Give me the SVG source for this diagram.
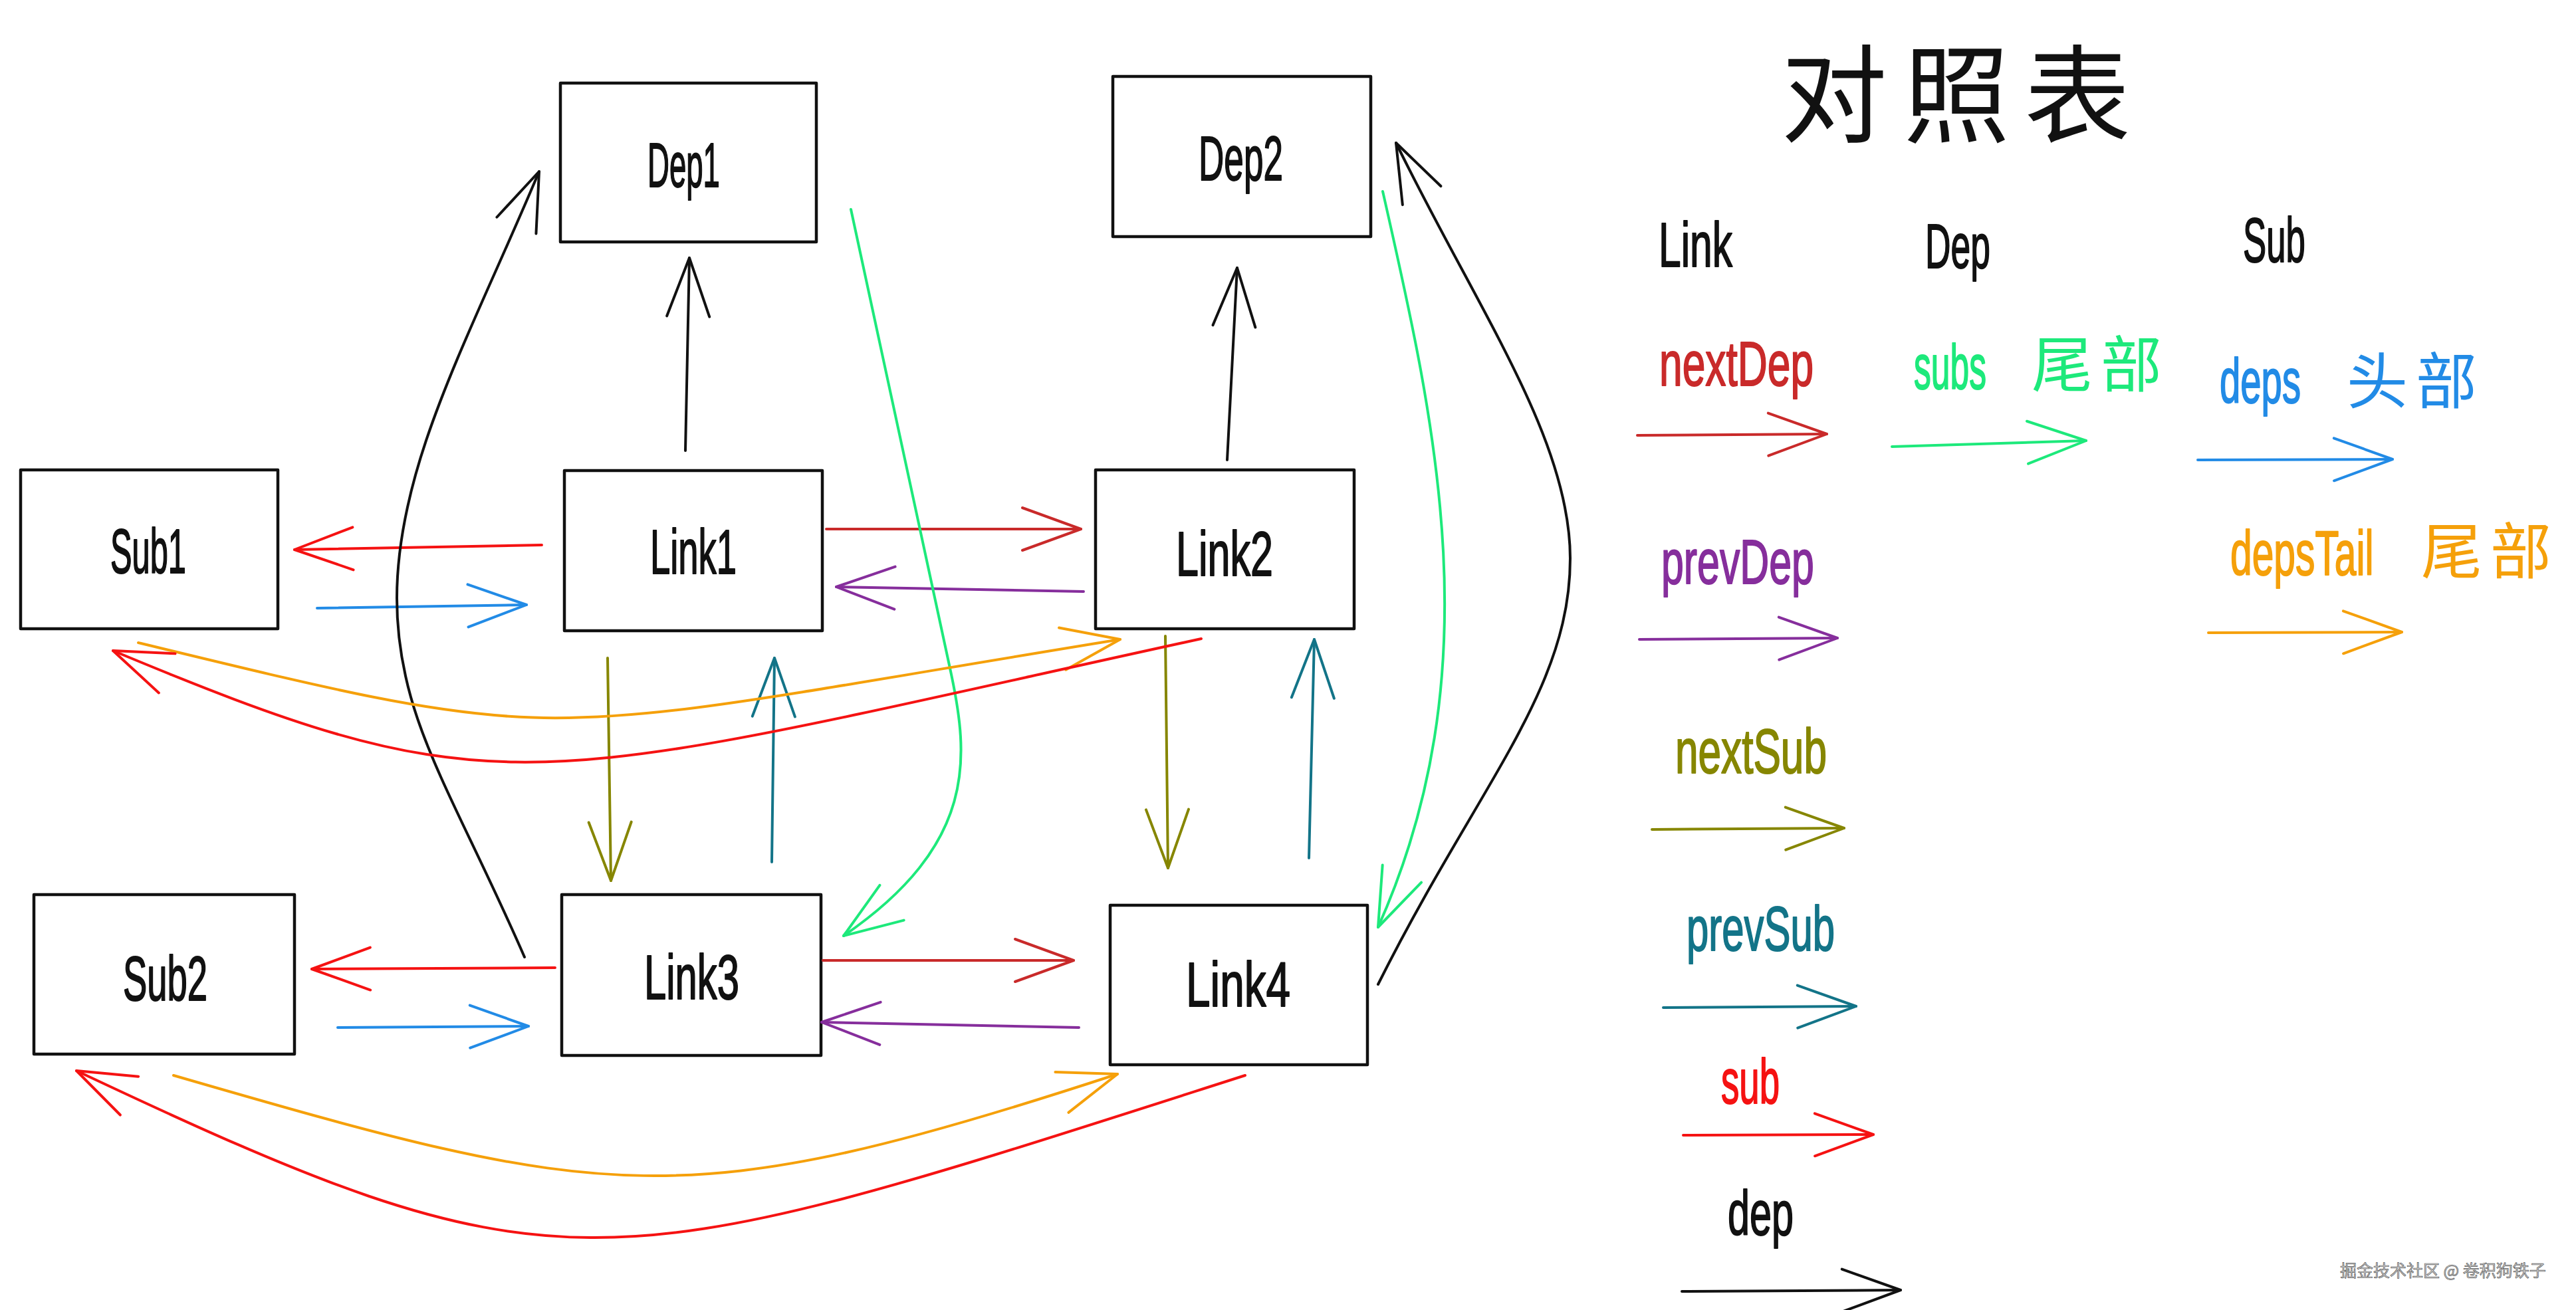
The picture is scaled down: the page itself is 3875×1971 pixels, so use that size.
<svg xmlns="http://www.w3.org/2000/svg" width="3875" height="1971" viewBox="0 0 3875 1971">
<style>
.box{fill:none;stroke:#111;stroke-width:4.5;stroke-linejoin:round}
.lbl{font-family:"Liberation Sans","Noto Sans CJK SC",sans-serif;font-size:94px;color:#111;fill:currentColor;stroke:currentColor;stroke-width:2;stroke-linejoin:round}
.cjk{font-family:"Noto Sans CJK SC","Liberation Sans",sans-serif}
.c{fill:none;stroke-width:4;stroke-linecap:round;stroke-linejoin:round}
.k{stroke:#111}.dr{stroke:#c92a2a}.pu{stroke:#862e9c}.ol{stroke:#868600}.te{stroke:#137488}
.rd{stroke:#f51212}.gr{stroke:#1de97b}.bl{stroke:#228be6}.or{stroke:#f5a00a}
.h{fill:none;stroke-width:4;stroke-linecap:round;stroke-linejoin:round}
</style>
<defs>
<marker id="mk" markerUnits="userSpaceOnUse" orient="auto" refX="0" refY="0" markerWidth="10" markerHeight="10" overflow="visible"><path class="h" d="M-88,-32 L0,0 L-88,32" stroke="#111"/></marker>
<marker id="mdr" markerUnits="userSpaceOnUse" orient="auto" refX="0" refY="0" markerWidth="10" markerHeight="10" overflow="visible"><path class="h" d="M-88,-32 L0,0 L-88,32" stroke="#c92a2a"/></marker>
<marker id="mpu" markerUnits="userSpaceOnUse" orient="auto" refX="0" refY="0" markerWidth="10" markerHeight="10" overflow="visible"><path class="h" d="M-88,-32 L0,0 L-88,32" stroke="#862e9c"/></marker>
<marker id="mol" markerUnits="userSpaceOnUse" orient="auto" refX="0" refY="0" markerWidth="10" markerHeight="10" overflow="visible"><path class="h" d="M-88,-32 L0,0 L-88,32" stroke="#868600"/></marker>
<marker id="mte" markerUnits="userSpaceOnUse" orient="auto" refX="0" refY="0" markerWidth="10" markerHeight="10" overflow="visible"><path class="h" d="M-88,-32 L0,0 L-88,32" stroke="#137488"/></marker>
<marker id="mrd" markerUnits="userSpaceOnUse" orient="auto" refX="0" refY="0" markerWidth="10" markerHeight="10" overflow="visible"><path class="h" d="M-88,-32 L0,0 L-88,32" stroke="#f51212"/></marker>
<marker id="mgr" markerUnits="userSpaceOnUse" orient="auto" refX="0" refY="0" markerWidth="10" markerHeight="10" overflow="visible"><path class="h" d="M-88,-32 L0,0 L-88,32" stroke="#1de97b"/></marker>
<marker id="mbl" markerUnits="userSpaceOnUse" orient="auto" refX="0" refY="0" markerWidth="10" markerHeight="10" overflow="visible"><path class="h" d="M-88,-32 L0,0 L-88,32" stroke="#228be6"/></marker>
<marker id="mor" markerUnits="userSpaceOnUse" orient="auto" refX="0" refY="0" markerWidth="10" markerHeight="10" overflow="visible"><path class="h" d="M-88,-32 L0,0 L-88,32" stroke="#f5a00a"/></marker>
</defs>
<rect width="3875" height="1971" fill="#fff"/>

<g id="Dep1"><rect class="box" x="843" y="125" width="385" height="239"/><text class="lbl" transform="translate(974 281) scale(0.485 1)">Dep1</text></g>
<g id="Dep2"><rect class="box" x="1674" y="115" width="388" height="241"/><text class="lbl" transform="translate(1803 271) scale(0.565 1)">Dep2</text></g>
<g id="Sub1"><rect class="box" x="31" y="707" width="387" height="239"/><text class="lbl" transform="translate(166 862) scale(0.519 1)">Sub1</text></g>
<g id="Link1"><rect class="box" x="849" y="708" width="388" height="241"/><text class="lbl" transform="translate(978 863) scale(0.579 1)">Link1</text></g>
<g id="Link2"><rect class="box" x="1648" y="707" width="389" height="239"/><text class="lbl" transform="translate(1769 866) scale(0.65 1)">Link2</text></g>
<g id="Sub2"><rect class="box" x="51" y="1346" width="392" height="240"/><text class="lbl" transform="translate(185 1505) scale(0.579 1)">Sub2</text></g>
<g id="Link3"><rect class="box" x="845" y="1346" width="390" height="242"/><text class="lbl" transform="translate(969 1503) scale(0.636 1)">Link3</text></g>
<g id="Link4"><rect class="box" x="1670" y="1362" width="387" height="240"/><text class="lbl" transform="translate(1784 1514) scale(0.699 1)">Link4</text></g>

<g id="connectors">
<path class="c k" d="M1031 678 L1037 388" marker-end="url(#mk)"/>
<path class="c k" d="M1846 692 L1861 403" marker-end="url(#mk)"/>
<path class="c rd" d="M815 820 L443 827" marker-end="url(#mrd)"/>
<path class="c bl" d="M477 915 L792 910" marker-end="url(#mbl)"/>
<path class="c dr" d="M1243 796 L1626 796" marker-end="url(#mdr)"/>
<path class="c pu" d="M1630 890 L1258 883" marker-end="url(#mpu)"/>
<path class="c ol" d="M914 990 L919 1325" marker-end="url(#mol)"/>
<path class="c te" d="M1161 1297 L1165 990" marker-end="url(#mte)"/>
<path class="c ol" d="M1753 957 L1757 1306" marker-end="url(#mol)"/>
<path class="c te" d="M1969 1291 L1977 962" marker-end="url(#mte)"/>
<path class="c rd" d="M835 1456 L469 1458" marker-end="url(#mrd)"/>
<path class="c bl" d="M508 1546 L795 1544" marker-end="url(#mbl)"/>
<path class="c dr" d="M1238 1445 L1615 1445" marker-end="url(#mdr)"/>
<path class="c pu" d="M1623 1546 L1236 1538" marker-end="url(#mpu)"/>
<path class="c k" d="M789 1440 C680 1190 597 1080 597 900 C597 700 706 508 811 258" marker-end="url(#mk)"/>
<path class="c k" d="M2073 1481 C2223 1181 2362 1040 2362 840 C2362 660 2222 465 2100 215" marker-end="url(#mk)"/>
<path class="c gr" d="M1280 315 L1430 1010 C1458 1140 1470 1270 1269 1408" marker-end="url(#mgr)"/>
<path class="c gr" d="M2080 288 C2160 640 2245 1010 2073 1395" marker-end="url(#mgr)"/>
<path class="c or" d="M208 967 C876 1129 787 1108 1685 962" marker-end="url(#mor)"/>
<path class="c rd" d="M1807 961 C794 1182 764 1227 170 979" marker-end="url(#mrd)"/>
<path class="c or" d="M261 1618 C913 1807 1023 1832 1681 1616" marker-end="url(#mor)"/>
<path class="c rd" d="M1873 1618 C901 1929 854 1960 115 1611" marker-end="url(#mrd)"/>
</g>

<g id="legend">
<text class="cjk" font-size="160" fill="#111"><tspan x="2679" y="202">对</tspan><tspan x="2863" y="202">照</tspan><tspan x="3045" y="202">表</tspan></text>
<text class="lbl" transform="translate(2495 401) scale(0.644 1)">Link</text>
<text class="lbl" transform="translate(2896 403) scale(0.568 1)">Dep</text>
<text class="lbl" transform="translate(3374 394) scale(0.562 1)">Sub</text>
<text class="lbl" style="color:#c92a2a" transform="translate(2496 580) scale(0.663 1)">nextDep</text>
<text class="lbl" style="color:#1de97b" transform="translate(2879 585) scale(0.549 1)">subs</text>
<text class="cjk" x="3056" y="582" font-size="92" letter-spacing="12" fill="#1de97b">尾部</text>
<text class="lbl" style="color:#228be6" transform="translate(3339 606) scale(0.599 1)">deps</text>
<text class="cjk" x="3530" y="607" font-size="92" letter-spacing="12" fill="#228be6">头部</text>
<text class="lbl" style="color:#862e9c" transform="translate(2499 878) scale(0.647 1)">prevDep</text>
<text class="lbl" style="color:#f5a00a" transform="translate(3355 865) scale(0.625 1)">depsTail</text>
<text class="cjk" x="3642" y="863" font-size="92" letter-spacing="12" fill="#f5a00a">尾部</text>
<text class="lbl" style="color:#868600" transform="translate(2520 1163) scale(0.661 1)">nextSub</text>
<text class="lbl" style="color:#137488" transform="translate(2537 1430) scale(0.637 1)">prevSub</text>
<text class="lbl" style="color:#f51212" transform="translate(2589 1660) scale(0.581 1)">sub</text>
<text class="lbl" transform="translate(2599 1858) scale(0.631 1)">dep</text>
<path class="c dr" d="M2463 655 L2748 653" marker-end="url(#mdr)"/>
<path class="c gr" d="M2846 672 L3138 663" marker-end="url(#mgr)"/>
<path class="c bl" d="M3306 692 L3599 691" marker-end="url(#mbl)"/>
<path class="c pu" d="M2466 962 L2764 960" marker-end="url(#mpu)"/>
<path class="c or" d="M3322 952 L3613 951" marker-end="url(#mor)"/>
<path class="c ol" d="M2485 1248 L2774 1246" marker-end="url(#mol)"/>
<path class="c te" d="M2502 1516 L2792 1514" marker-end="url(#mte)"/>
<path class="c rd" d="M2532 1708 L2818 1707" marker-end="url(#mrd)"/>
<path class="c k" d="M2530 1943 L2859 1941" marker-end="url(#mk)"/>
</g>
<text x="3520" y="1921" font-family="Noto Sans CJK SC, sans-serif" font-size="25" fill="#d0d0d0" stroke="#555" stroke-width="0.7">掘金技术社区 @ 卷积狗铁子</text>
</svg>
